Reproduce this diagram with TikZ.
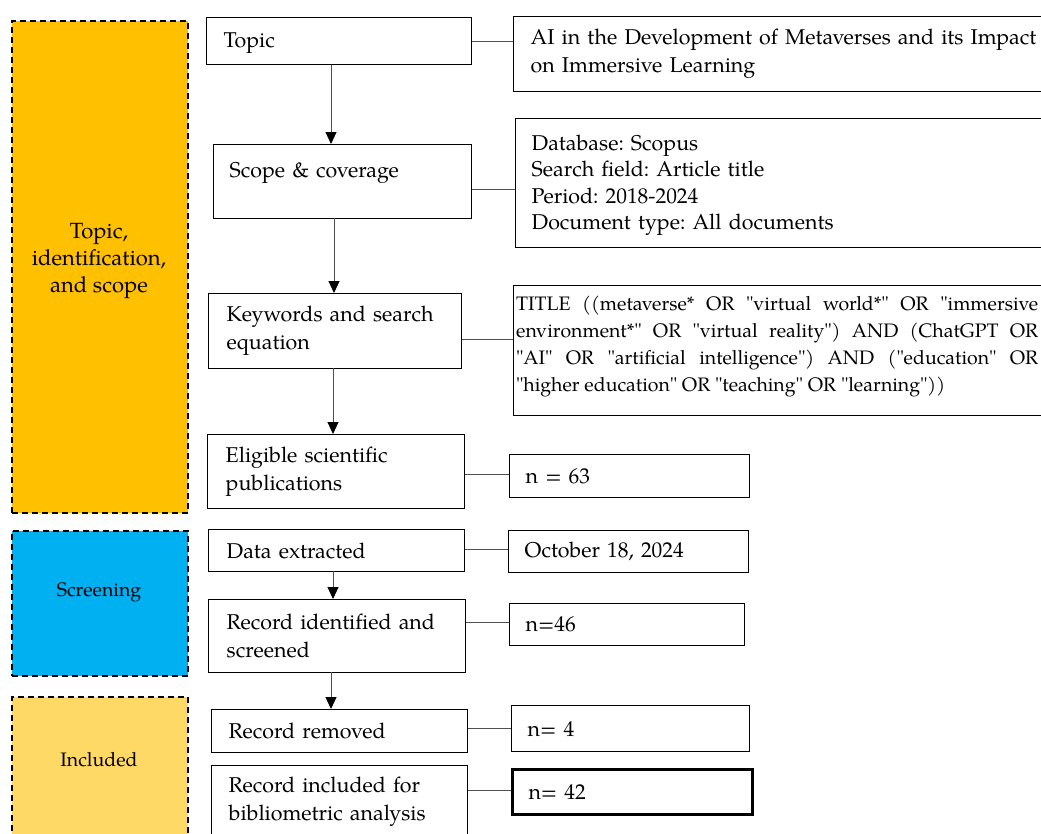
\documentclass[tikz,border=0pt]{standalone}
\usepackage{fontspec}
\setmainfont{TeX Gyre Pagella}
\newfontfamily\kwfont{TeX Gyre Pagella}[Ligatures=TeXOff]
\usetikzlibrary{arrows.meta}
\definecolor{phaseA}{HTML}{FFC000}
\definecolor{phaseB}{HTML}{00B0F0}
\definecolor{phaseC}{HTML}{FFD966}
\definecolor{linkgray}{HTML}{505050}
\newcommand{\mainsz}{\frenchspacing\fontsize{21.4}{28}\selectfont}
\newcommand{\covsz}{\frenchspacing\fontsize{21.4}{26.5}\selectfont}
\newcommand{\kwsz}{\frenchspacing\kwfont\fontsize{19.5}{27}\selectfont}
\newcommand{\phasesz}{\fontsize{19.5}{22}\selectfont}
\newcommand{\phaseAsz}{\fontsize{22}{27}\selectfont}
\tikzset{
  x=1pt, y=-1pt,
  phase/.style={draw=black, dash pattern=on 6pt off 4pt, line width=1.6pt, anchor=north west, inner sep=0pt},
  stepbox/.style={draw=black, line width=1.4pt, anchor=north west, inner ysep=0pt, align=left, font=\mainsz},
  infobox/.style={draw=black, line width=1.4pt, anchor=north west, inner ysep=0pt, align=left, font=\mainsz},
  numbox/.style={draw=black, line width=1.4pt, anchor=north west, inner ysep=0pt, inner xsep=16pt, align=left, font=\mainsz},
  link/.style={draw=linkgray, line width=1pt},
  flow/.style={draw=linkgray, line width=1pt, -{Triangle[width=11pt,length=12pt,color=black]}},
}
\begin{document}
\begin{tikzpicture}
\clip (0,0) rectangle (1041,833);
\fill[white] (0,0) rectangle (1041,833);

% phase boxes
\node[phase, fill=phaseA, minimum width=176, minimum height=492] (phA) at (11,20) {};
\node[align=center, font=\phaseAsz] (phAtext) at (99,261) {Topic,\\identification,\\and scope};
\node[phase, fill=phaseB, minimum width=176, minimum height=145] (phB) at (11,530) {};
\node[font=\phasesz] (phBtext) at (99,592) {Screening};
\node[phase, fill=phaseC, minimum width=176, minimum height=160] (phC) at (11,696) {};
\node[font=\phasesz] (phCtext) at (99,760) {Included};

% main steps
\node[stepbox, inner xsep=17pt, text width=231pt, minimum height=47, text height=18pt] (topic) at (206,17) {Topic};
\node[stepbox, inner xsep=16pt, text width=226pt, minimum height=74, text depth=23pt] (scope) at (213,144) {Scope \& coverage};
\node[stepbox, inner xsep=18pt, text width=217pt, minimum height=75] (kw) at (208,293) {Keywords and search\\equation};
\node[stepbox, inner xsep=18pt, text width=221pt, minimum height=74] (elig) at (207,434) {Eligible scientific\\publications};
\node[stepbox, inner xsep=18pt, text width=220pt, minimum height=42] (data) at (208,529) {Data extracted};
\node[stepbox, inner xsep=18pt, text width=221pt, minimum height=73] (recid) at (208,599) {Record identified and\\screened};
\node[stepbox, inner xsep=17pt, text width=222pt, minimum height=43] (recrem) at (211,709) {Record removed};
\node[stepbox, inner xsep=17pt, text width=222pt, minimum height=72] (recinc) at (211,765) {Record included for\\bibliometric analysis};

% info boxes (extend past the right edge)
\node[infobox, inner xsep=17pt, text width=560pt, minimum height=75] (ai) at (513,16) {AI in the Development of Metaverses and its Impact\\on Immersive Learning};
\node[infobox, font=\covsz, inner xsep=16pt, text width=560pt, minimum height=129, text height=20pt] (cov) at (515,118) {Database: Scopus\\Search field: Article title\\Period: 2018-2024\\Document type: All documents};
\node[infobox, minimum width=560, minimum height=130] (kwinfo) at (513,285) {};
\node[anchor=north west, inner sep=0pt, text width=522pt, align=justify, font=\kwsz] (kwtext) at (516,296)
  {TITLE ((metaverse* OR "virtual world*" OR "immersive\linebreak
   environment*" OR "virtual reality") AND (ChatGPT OR\linebreak
   "AI" OR "artificial intelligence") AND ("education" OR\linebreak
   "higher education" OR "teaching" OR "learning"))};

\node[numbox, text width=208pt, minimum height=43] (n63) at (509,454) {n = 63};
\node[numbox, text width=208pt, minimum height=42] (oct) at (508,530) {October 18, 2024};
\node[numbox, text width=203pt, minimum height=42] (n46) at (509,603) {n=46};
\node[numbox, text width=206pt, minimum height=46] (n4) at (511,705) {n= 4};
\node[numbox, line width=3pt, text width=208pt, minimum height=45] (n42) at (511,768) {n= 42};

% flow arrows
\draw[flow] (topic.south -| 331,0) -- (331,144);
\draw[flow] (334,218) -- (kw.north -| 334,0);
\draw[flow] (333,368) -- (elig.north -| 333,0);
\draw[flow] (333,571) -- (recid.north -| 333,0);
\draw[flow] (331,672) -- (recrem.north -| 331,0);

% side links
\draw[link] (topic.east) -- (topic.east -| ai.west);
\draw[link] (scope.east |- 0,189) -- (cov.west |- 0,189);
\draw[link] (kw.east |- 0,339) -- (kwinfo.west |- 0,339);
\draw[link] (elig.east |- 0,474) -- (n63.west |- 0,474);
\draw[link] (data.east |- 0,549) -- (oct.west |- 0,549);
\draw[link] (recid.east |- 0,622) -- (n46.west |- 0,622);
\draw[link] (recrem.east |- 0,728) -- (n4.west |- 0,728);
\draw[link] (recinc.east |- 0,790) -- (n42.west |- 0,790);
\end{tikzpicture}
\end{document}
